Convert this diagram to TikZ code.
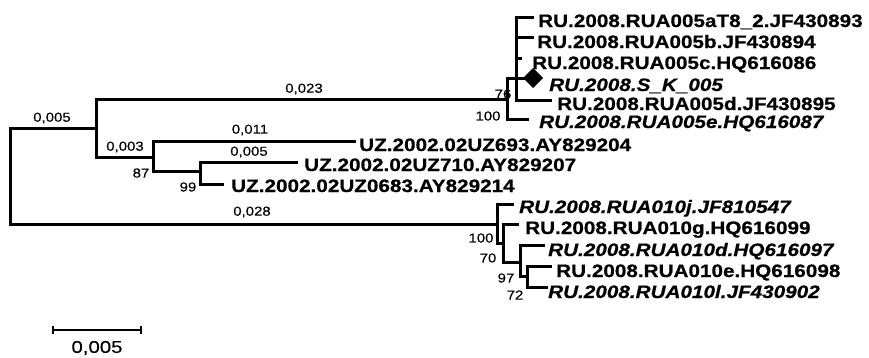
\documentclass[tikz,border=0pt]{standalone}
\usepackage{fontspec}
\newfontfamily\labfont{Liberation Sans}[FakeStretch=1.15,BoldFeatures={FakeBold=0.6},BoldItalicFeatures={FakeBold=0.6}]
\newfontfamily\numfont{Liberation Sans}[FakeStretch=1.15,FakeBold=0.3]
\newfontfamily\scalefont{Liberation Sans}[FakeStretch=1.2,FakeBold=0.3]
\tikzset{
  leaf/.style={anchor=base west, inner sep=0pt, font=\labfont\bfseries\fontsize{18}{18}\selectfont},
  leafit/.style={leaf, font=\labfont\bfseries\itshape\fontsize{18}{18}\selectfont},
  num/.style={inner sep=0pt, font=\numfont\fontsize{13}{13}\selectfont},
  br/.style={line width=3pt, line cap=rect, line join=miter},
}
\begin{document}
\begin{tikzpicture}[x=1pt,y=-1pt]
\useasboundingbox (0,0) rectangle (869,357);
% internal nodes (vertical extents)
\coordinate (Rt) at (10,128);  \coordinate (Rb) at (10,224);
\coordinate (At) at (96,99);   \coordinate (Ab) at (96,157);
\coordinate (Bt) at (507,78);  \coordinate (Bb) at (507,119);
\coordinate (Ct) at (516,17);  \coordinate (Cb) at (516,100);
\coordinate (Dt) at (153,141); \coordinate (Db) at (153,171);
\coordinate (Et) at (200,162); \coordinate (Eb) at (200,184);
\coordinate (Ft) at (497,204); \coordinate (Fb) at (497,243);
\coordinate (Gt) at (503,224); \coordinate (Gb) at (503,262);
\coordinate (Ht) at (520,245); \coordinate (Hb) at (520,276);
\coordinate (It) at (527,266); \coordinate (Ib) at (527,287);
% leaf ends
\coordinate (la) at (532,17);
\coordinate (lb) at (532,37);
\coordinate (lc) at (520,58);
\coordinate (lsk) at (533,78);
\coordinate (ld) at (550,100);
\coordinate (le) at (527,119);
\coordinate (lu1) at (354,141);
\coordinate (lu2) at (296,162);
\coordinate (lu3) at (222,184);
\coordinate (lj) at (512,204);
\coordinate (lg) at (517,224);
\coordinate (ld2) at (543,245);
\coordinate (le2) at (550,266);
\coordinate (ll) at (546,287);

% verticals
\foreach \t/\b in {Rt/Rb,At/Ab,Bt/Bb,Ct/Cb,Dt/Db,Et/Eb,Ft/Fb,Gt/Gb,Ht/Hb,It/Ib}
  \draw[br] (\t) -- (\b);
% horizontals
\draw[br] (Rt) -- (At |- Rt);
\draw[br] (At) -- (Bb |- At);
\draw[br] (Bt) -- (Ct |- Bt);
\draw[br] (Ct) -- (la);
\draw[br] (Ct |- lb) -- (lb);
\draw[br] (Ct |- lc) -- (lc);
\draw[br] (Ct |- lsk) -- (lsk);
\draw[br] (Cb) -- (ld);
\draw[br] (Bb) -- (le);
\draw[br] (Ab) -- (Dt |- Ab);
\draw[br] (Dt) -- (lu1);
\draw[br] (Db) -- (Et |- Db);
\draw[br] (Et) -- (lu2);
\draw[br] (Eb) -- (lu3);
\draw[br] (Rb) -- (Ft |- Rb);
\draw[br] (Ft) -- (lj);
\draw[br] (Fb) -- (Gt |- Fb);
\draw[br] (Gt) -- (lg);
\draw[br] (Gb) -- (Ht |- Gb);
\draw[br] (Ht) -- (ld2);
\draw[br] (Hb) -- (It |- Hb);
\draw[br] (It) -- (le2);
\draw[br] (Ib) -- (ll);

% diamond marker
\fill (523,78) -- (533,68) -- (543,78) -- (533,88) -- cycle;

% leaf labels
\node[leaf]   (na)  at (538,27)  {RU.2008.RUA005aT8\_2.JF430893};
\node[leaf]   (nb)  at (537,48)  {RU.2008.RUA005b.JF430894};
\node[leaf]   (nc)  at (532,69)  {RU.2008.RUA005c.HQ616086};
\node[leafit] (nsk) at (549,91)  {RU.2008.S\_K\_005};
\node[leaf]   (nd)  at (557,110) {RU.2008.RUA005d.JF430895};
\node[leafit] (ne)  at (539,128) {RU.2008.RUA005e.HQ616087};
\node[leaf]   (nu1) at (359,151) {UZ.2002.02UZ693.AY829204};
\node[leaf]   (nu2) at (304,171) {UZ.2002.02UZ710.AY829207};
\node[leaf]   (nu3) at (231,192) {UZ.2002.02UZ0683.AY829214};
\node[leafit] (nj)  at (519,213) {RU.2008.RUA010j.JF810547};
\node[leaf]   (ng)  at (525,234) {RU.2008.RUA010g.HQ616099};
\node[leafit] (nd2) at (548,256) {RU.2008.RUA010d.HQ616097};
\node[leaf]   (ne2) at (556,277) {RU.2008.RUA010e.HQ616098};
\node[leafit] (nl)  at (548,298) {RU.2008.RUA010l.JF430902};

% branch lengths
\node[num] (b1) at (52,118)  {0,005};
\node[num] (b2) at (304,89)  {0,023};
\node[num] (b3) at (125,147) {0,003};
\node[num] (b4) at (250,130) {0,011};
\node[num] (b5) at (249,152) {0,005};
\node[num] (b6) at (252,212) {0,028};
% bootstrap values
\node[num] (s87)  at (141,173) {87};
\node[num] (s99)  at (188,187) {99};
\node[num] (s76)  at (503,94)  {76};
\node[num] (s100a) at (488,116) {100};
\node[num] (s100b) at (481,238) {100};
\node[num] (s70)  at (488,258) {70};
\node[num] (s97)  at (506,278) {97};
\node[num] (s72)  at (515,295) {72};

% scale bar
\coordinate (sbl) at (53,330);
\coordinate (sbr) at (141,330);
\draw[line width=2.4pt] (sbl) -- (sbr);
\draw[line width=2pt] ([yshift=-4pt]sbl) -- ([yshift=4pt]sbl);
\draw[line width=2pt] ([yshift=-4pt]sbr) -- ([yshift=4pt]sbr);
\node[inner sep=0pt, font=\scalefont\fontsize{17}{17}\selectfont] (sl) at (97,348) {0,005};
\end{tikzpicture}
\end{document}
